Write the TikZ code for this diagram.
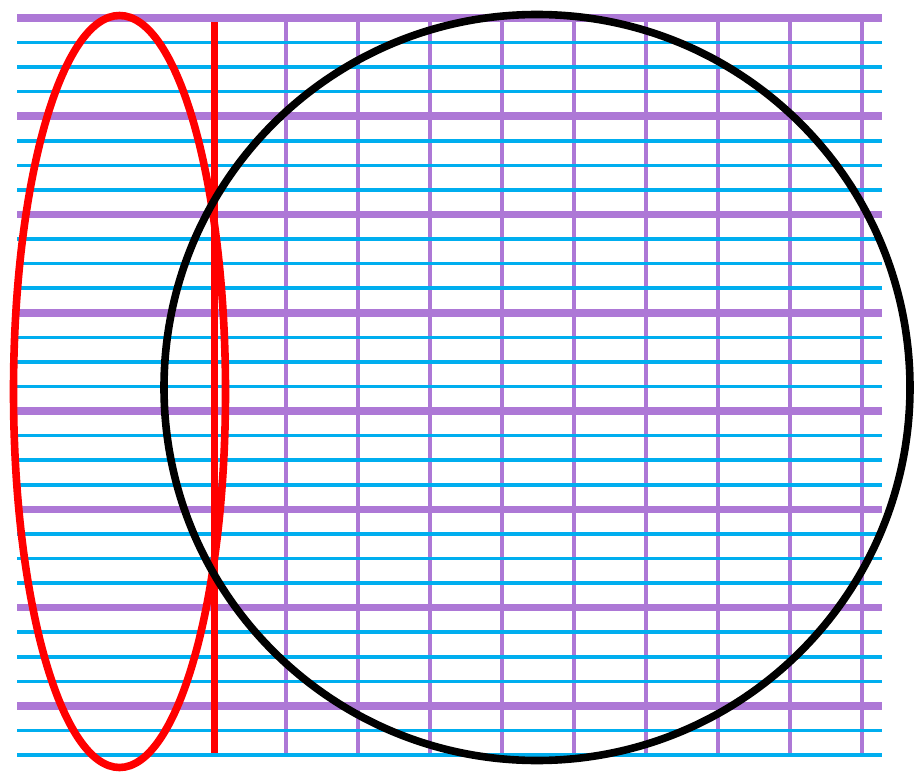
\documentclass[tikz,border=0pt]{standalone}
\definecolor{gridcyan}{RGB}{0,174,239}
\definecolor{gridpurple}{RGB}{173,120,214}
\tikzset{
  vline/.style={gridpurple, line width=3.3pt},
  hmajor/.style={gridpurple, line width=7.6pt},
  hminor/.style={gridcyan, line width=3.6pt},
  redline/.style={red, line width=7.3pt},
  redellipse/.style={red, line width=7.6pt},
  blackcircle/.style={black, line width=7.6pt}
}
\begin{document}
\begin{tikzpicture}[x=1pt,y=-1pt]
\useasboundingbox (0,0) rectangle (914,773);
\foreach \x in {286,358,...,862}{
  \draw[vline] (\x,18) -- (\x,755);
}
\foreach \i in {0,...,30}{
  \pgfmathsetmacro\yy{18+\i*24.567}
  \pgfmathtruncatemacro\m{mod(\i,4)}
  \ifnum\m=0
    \draw[hmajor] (17,\yy) -- (882,\yy);
  \else
    \draw[hminor] (17,\yy) -- (882,\yy);
  \fi
}
\draw[redline] (214.3,22.5) -- (214.3,753);
\draw[redellipse] (119.5,391.5) ellipse [x radius=106, y radius=376];
\draw[blackcircle] (537,387.5) circle [radius=373];
\end{tikzpicture}
\end{document}
